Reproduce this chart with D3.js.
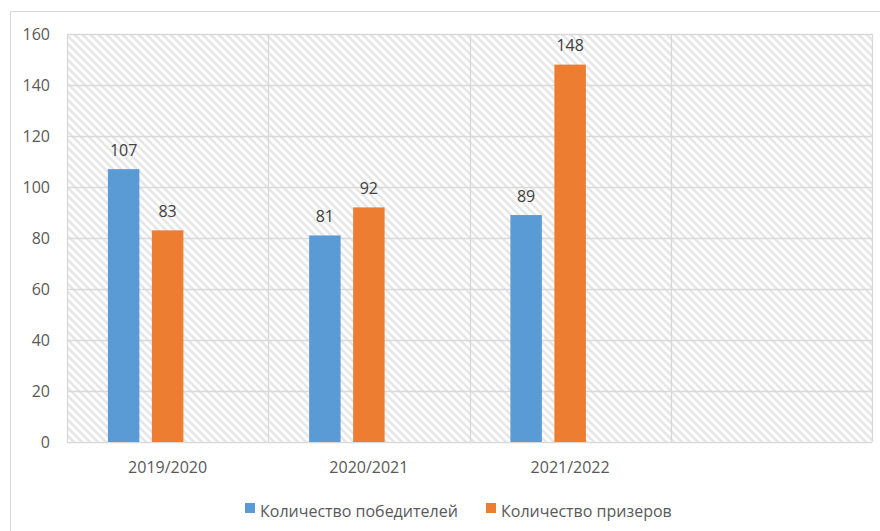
<!DOCTYPE html>
<html>
<head>
<meta charset="utf-8">
<script src="https://cdn.jsdelivr.net/npm/d3@7"></script>
<style>
html,body{margin:0;padding:0;background:#fff;}
svg{display:block;}
text{font-family:"Open Sans",sans-serif;}
</style>
</head>
<body>
<svg id="chart" width="880" height="531"></svg>
<script>
// ---- data ----
const categories = ["2019/2020", "2020/2021", "2021/2022", ""];
const winners = [107, 81, 89, null];   // Количество победителей
const prizers = [83, 92, 148, null];   // Количество призеров
const emptySeries = [null, null, null, null]; // third (empty) series slot
const seriesNames = ["Количество победителей", "Количество призеров", ""];
const yTicks = [0, 20, 40, 60, 80, 100, 120, 140, 160];

const colors = ["#5b9bd5", "#ed7d31", "#a5a5a5"];
const allSeries = [winners, prizers, emptySeries];

const svg = d3.select("#chart");
const plot = {left: 67, right: 872, top: 34, bottom: 442};

// outer chart border
svg.append("rect").attr("x", 10.5).attr("y", 11.5).attr("width", 900).attr("height", 600)
  .attr("fill", "#fff").attr("stroke", "#d9d9d9").attr("stroke-width", 1);

// hatch pattern
const defs = svg.append("defs");
const pat = defs.append("pattern").attr("id", "hatch").attr("patternUnits", "userSpaceOnUse")
  .attr("width", 8).attr("height", 8);
pat.append("rect").attr("width", 8).attr("height", 8).attr("fill", "#fff");
pat.append("path").attr("d", "M-1,-1 L9,9 M-1,7 L1,9 M7,-1 L9,1")
  .attr("stroke", "#e6e6e6").attr("stroke-width", 2.4);

const x = d3.scaleBand().domain(categories.map((c, i) => i)).range([plot.left, plot.right]).padding(0);
const xi = d3.scaleBand().domain([0, 1, 2]).range([0, x.bandwidth()]).paddingInner(0.284).paddingOuter(0.929);
const y = d3.scaleLinear().domain([0, 160]).range([plot.bottom, plot.top]);

// plot background
svg.append("rect").attr("x", plot.left).attr("y", plot.top)
  .attr("width", plot.right - plot.left).attr("height", plot.bottom - plot.top)
  .attr("fill", "url(#hatch)");

// horizontal gridlines
svg.append("g").selectAll("line").data(yTicks).join("line")
  .attr("x1", plot.left).attr("x2", plot.right)
  .attr("y1", d => Math.round(y(d)) + 0.5).attr("y2", d => Math.round(y(d)) + 0.5)
  .attr("stroke", "#d9d9d9").attr("stroke-width", 1.3);

// vertical gridlines at band boundaries
const vb = categories.map((c, i) => x(i)).concat([x(categories.length - 1) + x.bandwidth()]);
svg.append("g").selectAll("line").data(vb).join("line")
  .attr("x1", d => Math.round(d) + 0.5).attr("x2", d => Math.round(d) + 0.5)
  .attr("y1", plot.top).attr("y2", plot.bottom)
  .attr("stroke", "#d9d9d9").attr("stroke-width", 1.3);

// bars
allSeries.forEach((vals, s) => {
  const g = svg.append("g");
  const data = vals.map((v, i) => ({v, i})).filter(d => d.v != null);
  g.selectAll("rect").data(data).join("rect")
    .attr("x", d => x(d.i) + xi(s))
    .attr("width", xi.bandwidth())
    .attr("y", d => y(d.v))
    .attr("height", d => y(0) - y(d.v))
    .attr("fill", colors[s]);
  g.selectAll("text").data(data).join("text")
    .attr("x", d => x(d.i) + xi(s) + xi.bandwidth() / 2)
    .attr("y", d => y(d.v) - 13.5)
    .attr("text-anchor", "middle")
    .attr("font-size", 16).attr("fill", "#404040")
    .text(d => d.v);
});

// y axis labels
const yAxis = d3.axisLeft(y).tickValues(yTicks).tickSize(0).tickPadding(17);
const ya = svg.append("g").attr("transform", `translate(${plot.left},0)`).call(yAxis);
ya.select(".domain").remove();
ya.selectAll("text").attr("font-size", 16).attr("fill", "#595959")
  .attr("font-family", "Open Sans, sans-serif").attr("dy", "0.35em");

// x axis labels
const xAxis = d3.axisBottom(x).tickFormat(i => categories[i]).tickSize(0).tickPadding(20);
const xa = svg.append("g").attr("transform", `translate(0,${plot.bottom})`).call(xAxis);
xa.select(".domain").remove();
xa.selectAll("text").attr("font-size", 16).attr("fill", "#595959")
  .attr("font-family", "Open Sans, sans-serif");

// legend
const legendItems = [{name: seriesNames[0], c: colors[0], x: 245}, {name: seriesNames[1], c: colors[1], x: 486}];
const lg = svg.append("g");
legendItems.forEach(d => {
  lg.append("rect").attr("x", d.x).attr("y", 503).attr("width", 10).attr("height", 10).attr("fill", d.c);
  lg.append("text").attr("x", d.x + 15).attr("y", 517).attr("font-size", 16).attr("fill", "#595959").text(d.name);
});
</script>
</body>
</html>
